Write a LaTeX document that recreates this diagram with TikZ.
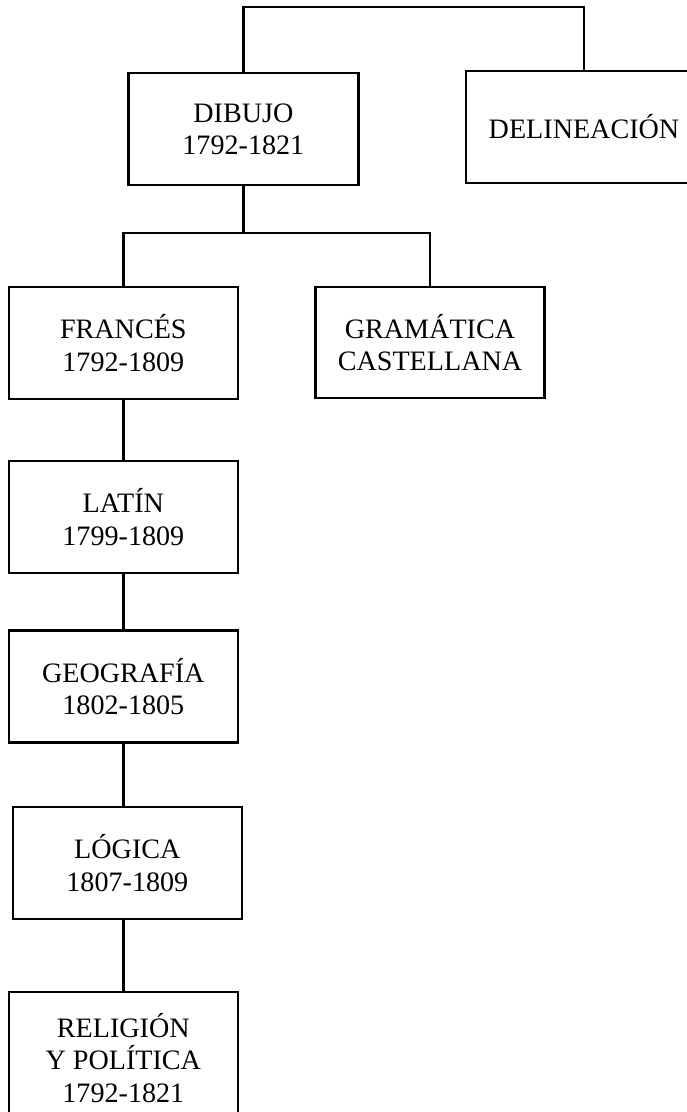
\documentclass[tikz,border=0pt]{standalone}
\usepackage{fontspec}
\setmainfont{Liberation Serif}
\usepackage{tikz}
\usetikzlibrary{calc}

\begin{document}
\begin{tikzpicture}[line width=2pt,
  materia/.style={draw,rectangle,align=center,inner sep=0pt,
    minimum width=6.87cm,minimum height=3.36cm,
    font=\fontsize{24}{27.5}\selectfont}]
\useasboundingbox (0,0) rectangle (20.61,33.36);
% upper level
\node[materia,minimum width=6.9cm] (dibujo) at (7.3,29.49) {DIBUJO\\1792-1821};
\node[materia,minimum width=7.08cm] (delin) at (17.52,29.55) {DELINEACI\'ON};
\node[materia] (frances) at (3.7,23.07) {FRANC\'ES\\1792-1809};
\node[materia,minimum height=3.33cm] (gramatica) at (12.9,23.085) {GRAM\'ATICA\\CASTELLANA};
% column of subjects
\node[materia] (latin) at (3.7,17.85) {LAT\'IN\\1799-1809};
\node[materia] (geografia) at (3.7,12.765) {GEOGRAF\'IA\\1802-1805};
\node[materia] (logica) at (3.82,7.47) {L\'OGICA\\1807-1809};
\node[materia,minimum height=3.96cm] (religion) at (3.7,1.62) {RELIGI\'ON\\Y POL\'ITICA\\1792-1821};
% brackets
\coordinate (cima) at (12,33.15);
\coordinate (rama) at (7.3,26.37);
\draw (dibujo.north) |- (cima) -| (delin.north);
\draw (dibujo.south) -- (rama) -| (frances.north);
\draw (rama) -| (gramatica.north);
\foreach \a/\b in {frances/latin,latin/geografia,geografia/logica,logica/religion}{
  \draw (\a.south -| frances.south) -- (\b.north -| frances.south);
}
\end{tikzpicture}
\end{document}
